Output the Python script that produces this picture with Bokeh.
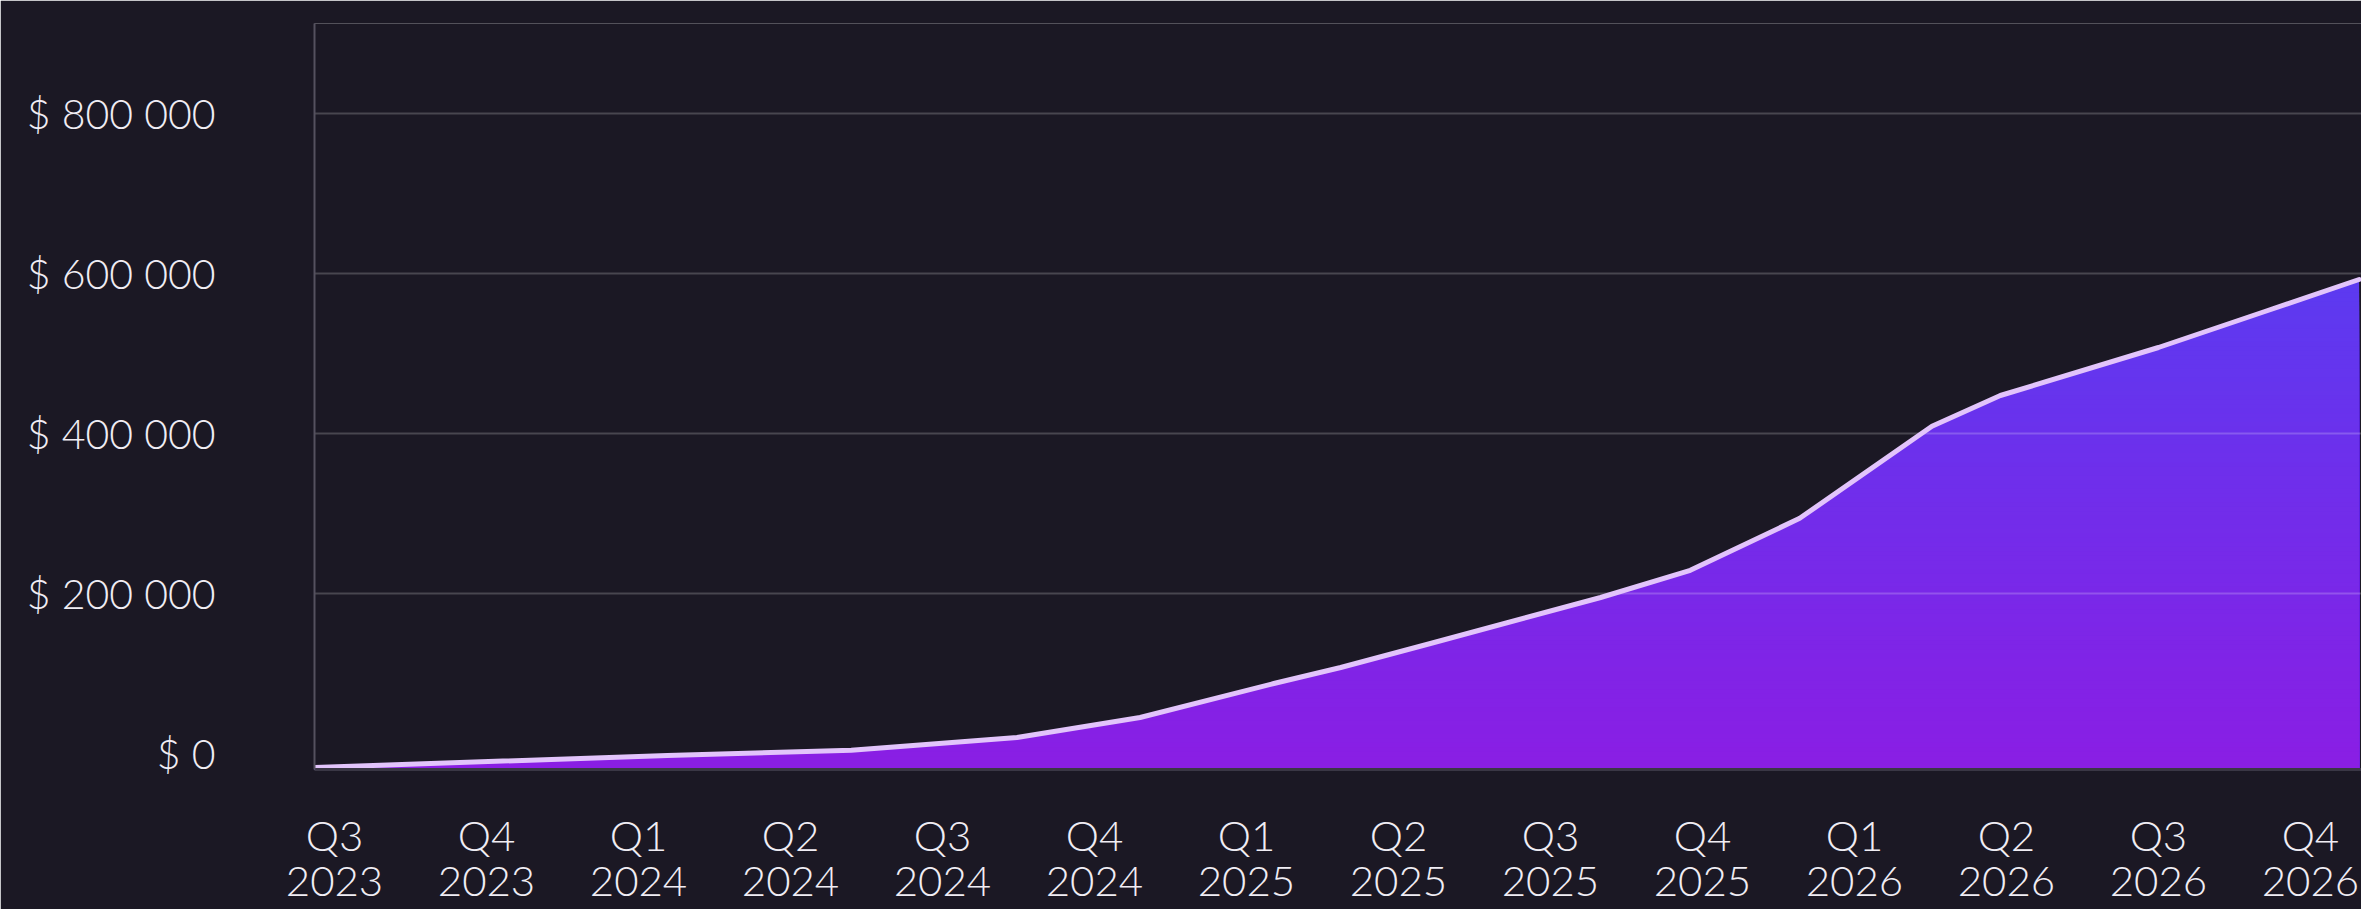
import numpy as np
from bokeh.plotting import figure
from bokeh.models import Range1d, FixedTicker
from bokeh.embed import file_html
from bokeh.resources import INLINE

# ---- data ----
quarter_labels = ["Q3\n2023", "Q4\n2023", "Q1\n2024", "Q2\n2024", "Q3\n2024", "Q4\n2024",
                  "Q1\n2025", "Q2\n2025", "Q3\n2025", "Q4\n2025", "Q1\n2026", "Q2\n2026",
                  "Q3\n2026", "Q4\n2026"]
y_ticks = [0, 200000, 400000, 600000, 800000]
y_tick_labels = ["$ 0", "$ 200 000", "$ 400 000", "$ 600 000", "$ 800 000"]

# position along the time axis, in quarters (0 = Q3 2023)
period = [-0.13, 2.19, 3.40, 4.49, 5.30, 6.18, 6.62, 7.21, 8.33, 8.92, 9.64,
          10.51, 10.96, 12.00, 12.70, 13.32]
revenue = [-17500, -2500, 4000, 20000, 45000, 87500, 107500, 137500, 195000, 229000, 294000,
           409000, 447500, 507500, 552500, 592500]

# ---- styles ----
BG = "#1B1824"
TEXT = "#F0EDF4"
FONT = "Lato Light, Lato"
LINE = "#E2C4FB"
BOTTOM_RGB = (138, 30, 228)
TOP_RGB = (92, 58, 240)
Y0 = -20000

p = figure(width=2361, height=909,
           x_range=Range1d(-0.1316, 13.336), y_range=Range1d(Y0, 912500),
           output_backend="svg", toolbar_location=None,
           min_border_left=314, min_border_right=0, min_border_top=23, min_border_bottom=140)
p.background_fill_color = BG
p.border_fill_color = BG
p.outline_line_color = None

# gradient area, built as stacked bands (top colour first, lower bands drawn over)
xs = np.linspace(period[0], period[-1], 1400)
curve = np.interp(xs, period, revenue)
vmax = max(revenue)
n_bands = 110
edges = np.linspace(Y0, vmax, n_bands + 1)
for k in range(n_bands, 0, -1):
    t = (k - 0.5) / n_bands
    r = round(BOTTOM_RGB[0] + (TOP_RGB[0] - BOTTOM_RGB[0]) * t)
    g = round(BOTTOM_RGB[1] + (TOP_RGB[1] - BOTTOM_RGB[1]) * t)
    b = round(BOTTOM_RGB[2] + (TOP_RGB[2] - BOTTOM_RGB[2]) * t)
    top = edges[k] if k < n_bands else vmax + 1
    p.varea(x=xs, y1=np.full_like(xs, Y0), y2=np.minimum(curve, top),
            fill_color=f"#{r:02x}{g:02x}{b:02x}", level="image")

p.line(period, revenue, line_width=5, line_color=LINE, line_cap="round", line_join="round")

# grid
p.xgrid.visible = False
p.ygrid.ticker = FixedTicker(ticks=y_ticks[1:])
p.ygrid.grid_line_color = "#FFFFFF"
p.ygrid.grid_line_alpha = 0.2
p.ygrid.grid_line_width = 2

# y axis
p.yaxis.ticker = FixedTicker(ticks=y_ticks)
p.yaxis.major_label_overrides = {t: s for t, s in zip(y_ticks, y_tick_labels)}
p.yaxis.axis_line_color = "#55515F"
p.yaxis.axis_line_width = 2
p.yaxis.major_tick_line_color = None
p.yaxis.minor_tick_line_color = None
p.yaxis.major_label_standoff = 93
p.yaxis.major_label_text_font = FONT
p.yaxis.major_label_text_font_size = "41px"
p.yaxis.major_label_text_color = TEXT

# x axis
p.xaxis.ticker = FixedTicker(ticks=list(range(len(quarter_labels))))
p.xaxis.major_label_overrides = {i: s for i, s in enumerate(quarter_labels)}
p.xaxis.axis_line_color = "#3A3745"
p.xaxis.axis_line_width = 3
p.xaxis.major_tick_line_color = None
p.xaxis.minor_tick_line_color = None
p.xaxis.major_label_standoff = 34
p.xaxis.major_label_text_font = FONT
p.xaxis.major_label_text_font_size = "42px"
p.xaxis.major_label_text_line_height = 0.9
p.xaxis.major_label_text_color = TEXT

html = file_html(p, INLINE)
html = html.replace("<body>", f'<body style="margin:0;background:{BG};overflow:hidden">', 1)
open("out.html", "w").write(html)
